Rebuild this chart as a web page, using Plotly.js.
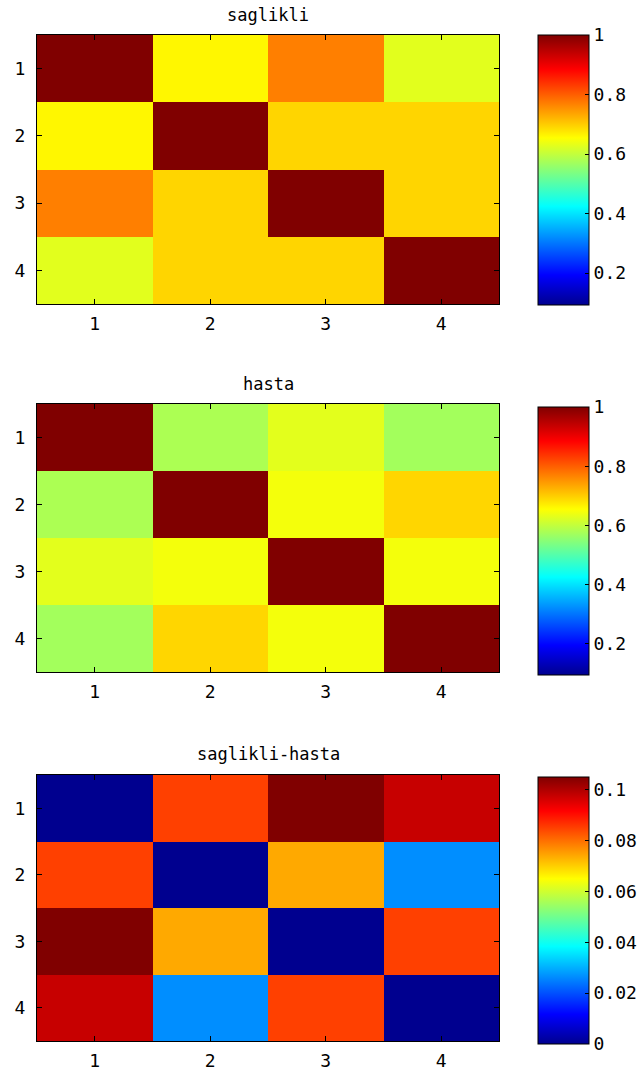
<!DOCTYPE html>
<html>
<head>
<meta charset="utf-8">
<script src="https://cdn.plot.ly/plotly-3.0.1.min.js"></script>
<style>html,body{margin:0;padding:0;background:#fff;}#chart{width:643px;height:1079px;}</style>
</head>
<body>
<div id="chart"></div>
<script>
// ---- data ----
const labels = [1, 2, 3, 4];
const titles = ["saglikli", "hasta", "saglikli-hasta"];

const saglikli = [
  [1.000, 0.662, 0.770, 0.628],
  [0.662, 1.000, 0.692, 0.692],
  [0.770, 0.692, 1.000, 0.692],
  [0.628, 0.692, 0.692, 1.000]
];
const hasta = [
  [1.000, 0.580, 0.630, 0.572],
  [0.580, 1.000, 0.645, 0.692],
  [0.630, 0.645, 1.000, 0.645],
  [0.572, 0.692, 0.645, 1.000]
];
const fark = [
  [0.000, 0.085, 0.105, 0.0975],
  [0.085, 0.000, 0.074, 0.0265],
  [0.105, 0.074, 0.000, 0.085],
  [0.0975, 0.0265, 0.085, 0.000]
];
const zRanges = [[0.093, 1.0], [0.095, 1.0], [0.0, 0.105]];
const cbTicks = [0.2, 0.2, 0.02];

// ---- styling ----
const W = 643, H = 1079;
const jet = [
  [0, 'rgb(0,0,143)'],
  [0.111, 'rgb(0,0,255)'],
  [0.365, 'rgb(0,255,255)'],
  [0.619, 'rgb(255,255,0)'],
  [0.873, 'rgb(255,0,0)'],
  [1, 'rgb(128,0,0)']
];
const FONT = 'DejaVu Sans Mono, monospace';
const plotX = [37, 499];
const panels = [
  {top: 35, bottom: 304, cbTop: 35, cbBottom: 305, titleY: 15},
  {top: 404, bottom: 672, cbTop: 407, cbBottom: 675, titleY: 384},
  {top: 775, bottom: 1041, cbTop: 777, cbBottom: 1044, titleY: 754}
];
const cbLeft = 538, cbWidth = 51;

const datasets = [saglikli, hasta, fark];
const traces = [];
const layout = {
  width: W, height: H,
  margin: {l: 0, r: 0, t: 0, b: 0},
  paper_bgcolor: '#fff', plot_bgcolor: '#fff',
  font: {family: FONT, size: 18, color: '#000'},
  showlegend: false,
  annotations: []
};

datasets.forEach((z, i) => {
  const p = panels[i];
  const n = i === 0 ? '' : String(i + 1);
  traces.push({
    type: 'heatmap',
    z: z, x: labels, y: labels,
    xaxis: 'x' + n, yaxis: 'y' + n,
    colorscale: jet,
    zmin: zRanges[i][0], zmax: zRanges[i][1],
    hoverinfo: 'skip',
    colorbar: {
      x: cbLeft / W, xanchor: 'left', xpad: 0, ypad: 0,
      thickness: cbWidth, thicknessmode: 'pixels',
      y: 1 - p.cbTop / H, yanchor: 'top',
      len: (p.cbBottom - p.cbTop) / H, lenmode: 'fraction',
      outlinewidth: 1, outlinecolor: '#000',
      ticks: 'inside', ticklen: 4, tickcolor: '#000',
      tick0: 0, dtick: cbTicks[i],
      tickfont: {family: FONT, size: 18, color: '#000'}
    }
  });
  const ax = {
    domain: [plotX[0] / W, plotX[1] / W],
    anchor: 'y' + n,
    tickmode: 'array', tickvals: labels, ticktext: labels.map(String),
    ticks: 'inside', ticklen: 5, tickcolor: '#000',
    showline: true, linecolor: '#000', linewidth: 1, mirror: 'ticks',
    showgrid: false, zeroline: false,
    range: [0.5, 4.5],
    ticklabelstandoff: 3,
    tickfont: {family: FONT, size: 18, color: '#000'}
  };
  const ay = {
    domain: [1 - p.bottom / H, 1 - p.top / H],
    anchor: 'x' + n,
    tickmode: 'array', tickvals: labels, ticktext: labels.map(String),
    ticks: 'inside', ticklen: 5, tickcolor: '#000',
    showline: true, linecolor: '#000', linewidth: 1, mirror: 'ticks',
    showgrid: false, zeroline: false,
    range: [4.5, 0.5],
    ticklabelstandoff: 7,
    tickfont: {family: FONT, size: 18, color: '#000'}
  };
  layout['xaxis' + n] = ax;
  layout['yaxis' + n] = ay;
  layout.annotations.push({
    text: titles[i], xref: 'paper', yref: 'paper',
    x: (plotX[0] + plotX[1]) / 2 / W, y: 1 - p.titleY / H,
    xanchor: 'center', yanchor: 'middle', showarrow: false,
    font: {family: FONT, size: 17, color: '#000'}
  });
});

Plotly.newPlot('chart', traces, layout, {staticPlot: true, displayModeBar: false});
</script>
</body>
</html>
